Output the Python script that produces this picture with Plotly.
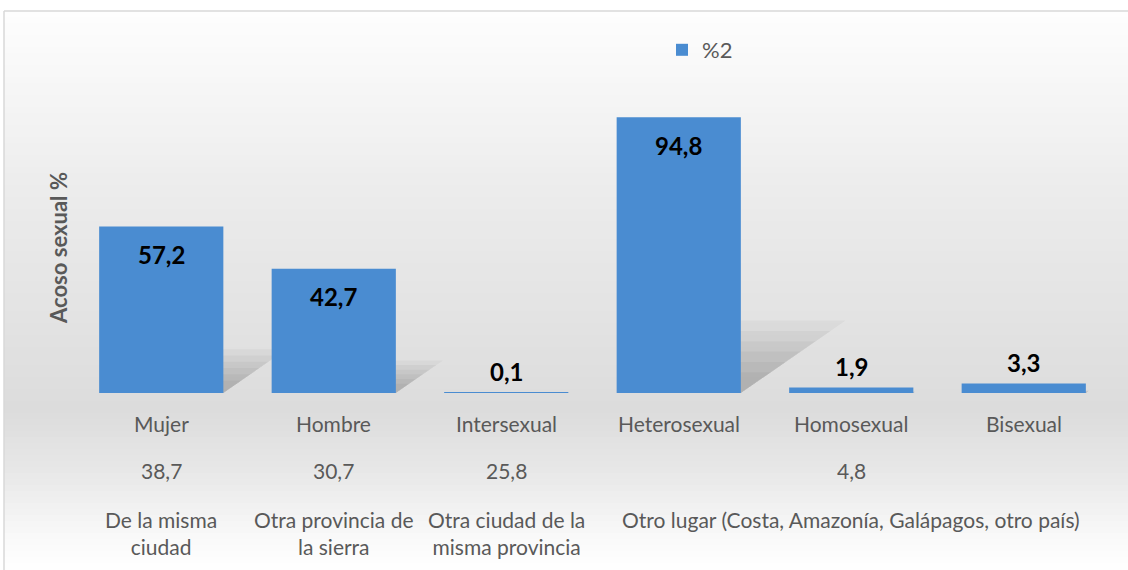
"""
Acoso sexual (%) por sexo, orientación y procedencia - gráfico de barras
"""

import plotly.graph_objects as go

# Datos
categorias = ["Mujer", "Hombre", "Intersexual", "Heterosexual", "Homosexual", "Bisexual"]
valores = [57.2, 42.7, 0.1, 94.8, 1.9, 3.3]
serie = "%2"

procedencia = [
    "De la misma<br>ciudad",
    "Otra provincia de<br>la sierra",
    "Otra ciudad de la<br>misma provincia",
    "Otro lugar (Costa, Amazonía, Galápagos, otro país)",
]
procedencia_valores = [38.7, 30.7, 25.8, 4.8]
procedencia_n = [1, 1, 1, 3]  # nb de catégories couvertes par chaque groupe

GRIS_TXT = "#595959"
AZUL = "#4a8cd1"
FUENTE = "Lato, 'Noto Sans', sans-serif"

W, H = 1128, 570
L, R, T, B = 75, 18, 102, 177


def coma(v):
    return f"{v:.1f}".replace(".", ",")


def py(px):
    # pixel vertical -> coordonnée papier
    return (H - B - px) / (H - T - B)


def px_x(px):
    return (px - L) / (W - L - R)


xs = list(range(len(categorias)))

fig = go.Figure()
fig.add_trace(go.Bar(
    x=xs, y=valores, name=serie, width=0.72,
    marker=dict(color=AZUL, line=dict(width=0)),
    hovertemplate="%{customdata}: %{y:.1f}<extra></extra>",
    customdata=categorias,
))

shapes = []

# Fond dégradé (blanc -> gris -> blanc)
stops = [(0, 255), (60, 249), (200, 235), (330, 226), (410, 220), (470, 231), (540, 250), (570, 255)]
band = 6
for y0 in range(11, H, band):
    yc = y0 + band / 2
    for (a, ca), (b, cb) in zip(stops[:-1], stops[1:]):
        if a <= yc <= b:
            c = int(round(ca + (cb - ca) * (yc - a) / (b - a)))
            break
    shapes.append(dict(type="rect", xref="paper", yref="paper", layer="below",
                       x0=px_x(4), x1=px_x(W + 5), y0=py(y0 + band), y1=py(y0),
                       fillcolor=f"rgb({c},{c},{c})", line=dict(width=0)))

# Cadre
shapes.append(dict(type="line", xref="paper", yref="paper", x0=px_x(4), x1=px_x(W + 5),
                   y0=py(11), y1=py(11), line=dict(color="#d9d9d9", width=1.5)))
shapes.append(dict(type="line", xref="paper", yref="paper", x0=px_x(4), x1=px_x(4),
                   y0=py(11), y1=py(H + 5), line=dict(color="#d9d9d9", width=1.5)))

# Ombres en perspective (floues) derrière les barres
for i, v in enumerate(valores):
    for f in (1.05, 0.9, 0.75, 0.6, 0.45, 0.3):
        h = 0.25 * v * f
        s = 0.0061 * v * f
        xl, xr = i - 0.33, i + 0.36
        path = f"M {xl} 0 L {xr} 0 L {xr + s} {h} L {xl + s} {h} Z"
        shapes.append(dict(type="path", xref="x", yref="y", layer="below", path=path,
                           fillcolor="rgba(0,0,0,0.035)", line=dict(width=0)))

annotations = []

# Étiquettes de données
for i, v in enumerate(valores):
    dentro = v > 10
    annotations.append(dict(
        x=i, y=v, xref="x", yref="y", text=f"<b>{coma(v)}</b>", showarrow=False,
        yanchor="middle", yshift=-28 if dentro else 21,
        font=dict(family=FUENTE, size=24, color="black"),
    ))

# Axe catégoriel à trois niveaux
for i, c in enumerate(categorias):
    annotations.append(dict(x=i, y=py(423), xref="x", yref="paper", text=c, showarrow=False,
                            yanchor="middle", font=dict(family=FUENTE, size=21, color=GRIS_TXT)))

pos = 0
for g, gv, n in zip(procedencia, procedencia_valores, procedencia_n):
    xc = pos + (n - 1) / 2
    annotations.append(dict(x=xc, y=py(470), xref="x", yref="paper", text=coma(gv), showarrow=False,
                            yanchor="middle", font=dict(family=FUENTE, size=21, color=GRIS_TXT)))
    annotations.append(dict(x=xc, y=py(505), xref="x", yref="paper", text=g, showarrow=False,
                            yanchor="top", font=dict(family=FUENTE, size=21, color=GRIS_TXT)))
    pos += n

fig.update_layout(
    width=W, height=H,
    margin=dict(l=L, r=R, t=T, b=B),
    paper_bgcolor="white", plot_bgcolor="rgba(0,0,0,0)",
    font=dict(family=FUENTE, color=GRIS_TXT, size=21),
    showlegend=True,
    legend=dict(x=px_x(662), y=py(50), xanchor="left", yanchor="middle",
                bgcolor="rgba(0,0,0,0)", font=dict(size=22, color=GRIS_TXT),
                itemwidth=30),
    shapes=shapes,
    annotations=annotations,
    separators=",.",
    bargap=0.28,
)
fig.update_xaxes(range=[-0.5, len(categorias) - 0.5], showticklabels=False, showgrid=False,
                 zeroline=False, showline=False, ticks="")
fig.update_yaxes(range=[0, 100], showticklabels=False, showgrid=False, zeroline=False,
                 showline=False, ticks="",
                 title=dict(text="<b>Acoso sexual %</b>", standoff=0,
                            font=dict(size=22, color=GRIS_TXT)))

fig.write_html("out.html", config={"displayModeBar": False},
               post_script="document.body.style.margin='0';")
